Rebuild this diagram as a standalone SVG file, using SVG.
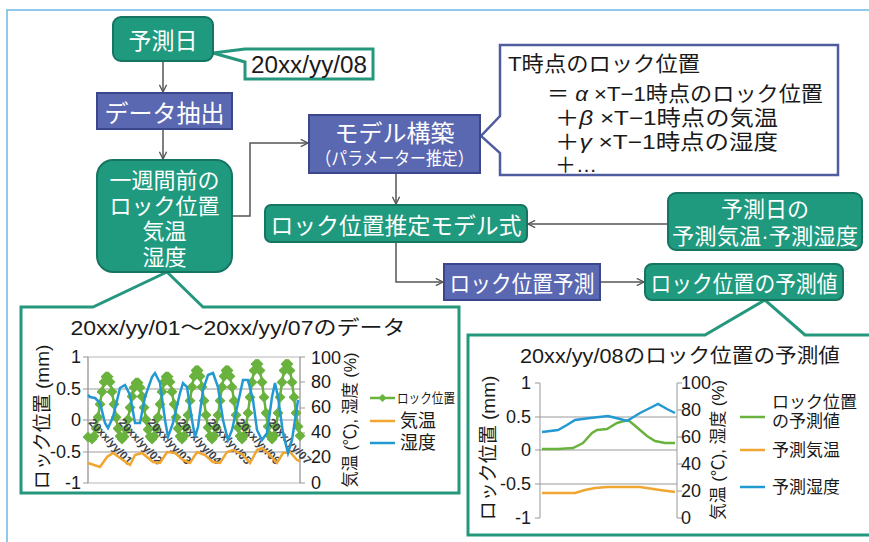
<svg xmlns="http://www.w3.org/2000/svg" width="869" height="542" viewBox="0 0 869 542">
<defs>
<style>
.teal{fill:#1f9a7e;stroke:#157560;stroke-width:2}
.blue{fill:#5a68b2;stroke:#3b478a;stroke-width:2}
.wt{fill:#fff;font-family:"Noto Sans CJK JP","Liberation Sans",sans-serif;text-anchor:middle;dominant-baseline:central}
.wl{fill:#fff;font-family:"Liberation Sans","Noto Sans CJK JP",sans-serif;text-anchor:middle;dominant-baseline:central}
.con{fill:none;stroke:#555;stroke-width:1.5}
.call{fill:#fff;stroke:#24977d;stroke-width:3}
.tx{font-family:"Liberation Sans","Noto Sans CJK JP",sans-serif;fill:#1a1a1a}
.mid{text-anchor:middle;dominant-baseline:central}
.end{text-anchor:end;dominant-baseline:central}
.st{text-anchor:start;dominant-baseline:central}
.ax{stroke:#999;stroke-width:1;fill:none}
.gr{fill:none;stroke:#6ab23e;stroke-width:2.5}
.or{fill:none;stroke:#f0a630;stroke-width:2.5}
.bl{fill:none;stroke:#2399d3;stroke-width:2.5}
.dl{font-family:"Liberation Sans",sans-serif;font-size:11.5px;font-weight:bold;fill:#3a3f4a}
</style>
<marker id="arr" viewBox="0 0 10 10" refX="9" refY="5" markerWidth="9" markerHeight="9" markerUnits="userSpaceOnUse" orient="auto"><path d="M1,1 L9,5 L1,9" fill="none" stroke="#555" stroke-width="1.5"/></marker>
<marker id="dia" viewBox="0 0 8 8" refX="4" refY="4" markerWidth="11" markerHeight="11" markerUnits="userSpaceOnUse" orient="0"><path d="M4,0 L8,4 L4,8 L0,4 Z" fill="#6ab23e"/></marker>
</defs>
<rect x="0" y="0" width="869" height="542" fill="#fff"/>
<rect x="7" y="10" width="880" height="545" fill="#fff" stroke="#6db8e6" stroke-width="1.5"/>

<!-- callouts -->
<g id="callout-date">
<path class="call" d="M213,53 L245,49 L373,49 L373,79 L245,79 L245,62 Z"/>
<text class="tx mid" x="309" y="65" font-size="23" textLength="116" lengthAdjust="spacingAndGlyphs">20xx/yy/08</text>
</g>
<g id="callout-formula">
<path d="M500,45 L838,45 L838,175 L500,175 L500,153 L481,136 L500,116 Z" fill="#fff" stroke="#4f5da0" stroke-width="2.5"/>
<text class="tx st" x="508" y="63" font-size="21" textLength="192" lengthAdjust="spacingAndGlyphs">T時点のロック位置</text>
<text class="tx st" x="547" y="93" font-size="21" textLength="276" lengthAdjust="spacingAndGlyphs">＝ <tspan font-style="italic">α</tspan> ×T−1時点のロック位置</text>
<text class="tx st" x="555" y="117" font-size="21" textLength="223" lengthAdjust="spacingAndGlyphs">＋<tspan font-style="italic">β</tspan> ×T−1時点の気温</text>
<text class="tx st" x="555" y="141" font-size="21" textLength="223" lengthAdjust="spacingAndGlyphs">＋<tspan font-style="italic">γ</tspan> ×T−1時点の湿度</text>
<text class="tx st" x="555" y="164" font-size="21">＋…</text>
</g>

<!-- left chart -->
<g id="chart-left">
<path class="call" d="M21,307 L93,307 L167,272 L203,307 L459,307 L459,493 L21,493 Z"/>
<text class="tx mid" x="238" y="328" font-size="20" textLength="335" lengthAdjust="spacingAndGlyphs">20xx/yy/01～20xx/yy/07のデータ</text>
<rect x="88" y="357" width="212" height="126" fill="#fff" stroke="#b5b5b5" stroke-width="1"/>
<path class="ax" d="M88,389 H300 M88,420 H300 M88,452 H300"/>
<path class="ax" d="M88,357 V483 M300,357 V483 M83,357 H88 M83,389 H88 M83,420 H88 M83,452 H88 M83,483 H88 M300,357 H305 M300,382 H305 M300,408 H305 M300,433 H305 M300,458 H305 M300,483 H305"/>
<g class="tx" font-size="18">
<text class="end" x="81" y="357">1</text>
<text class="end" x="81" y="389">0.5</text>
<text class="end" x="81" y="420">0</text>
<text class="end" x="81" y="452">-0.5</text>
<text class="end" x="81" y="483">-1</text>
<text class="st" x="311" y="358">100</text>
<text class="st" x="311" y="382">80</text>
<text class="st" x="311" y="407">60</text>
<text class="st" x="311" y="432">40</text>
<text class="st" x="311" y="457">20</text>
<text class="st" x="311" y="483">0</text>
</g>
<text class="tx mid" transform="translate(42,417) rotate(-90)" font-size="19">ロック位置 (mm)</text>
<text class="tx mid" transform="translate(350,420) rotate(-90)" font-size="17" textLength="135" lengthAdjust="spacingAndGlyphs">気温 (℃), 湿度 (%)</text>
<polyline class="gr" stroke-width="5" marker-start="url(#dia)" marker-mid="url(#dia)" marker-end="url(#dia)" points="88,437 92,439 94,436.3 96,428.6 98,417.3 100,404.2 102,391.8 104,382 106,376.7 108,376.7 110,382 112,391.8 114,404.2 116,417.3 118,428.6 120,436.3 122,439 124,436.6 126,429.6 128,419.4 130,407.6 132,396.4 134,387.6 136,382.8 138,382.8 140,387.6 142,396.4 144,407.6 146,419.4 148,429.6 150,436.6 152,439 154,436.3 156,428.6 158,417.3 160,404.2 162,391.8 164,382 166,376.7 168,376.7 170,382 172,391.8 174,404.2 176,417.3 178,428.6 180,436.3 182,439 184,436 186,427.5 188,415.1 190,400.7 192,387 194,376.2 196,370.4 198,370.4 200,376.2 202,387 204,400.7 206,415.1 208,427.5 210,436 212,439 214,436 216,427.5 218,415.1 220,400.7 222,387 224,376.2 226,370.4 228,370.4 230,376.2 232,387 234,400.7 236,415.1 238,427.5 240,436 242,439 244,435.7 246,426.5 248,412.9 250,397.2 252,382.2 254,370.5 256,364.1 258,364.1 260,370.5 262,382.2 264,397.2 266,412.9 268,426.5 270,435.7 272,439 274,435.7 276,426.5 278,412.9 280,397.2 282,382.2 284,370.5 286,364.1 288,364.1 290,370.5 292,382.2 294,397.2 296,412.9 298,426.5 300,435.7"/>
<g class="dl">
<text transform="translate(88,423) rotate(47)">20xx/yy/01</text>
<text transform="translate(118,423) rotate(47)">20xx/yy/02</text>
<text transform="translate(147,423) rotate(47)">20xx/yy/03</text>
<text transform="translate(177,423) rotate(47)">20xx/yy/04</text>
<text transform="translate(207,423) rotate(47)">20xx/yy/05</text>
<text transform="translate(236,423) rotate(47)">20xx/yy/06</text>
<text transform="translate(267,423) rotate(47)">20xx/yy/07</text>
</g>
<polyline class="or" points="88,463 100,467 107,457 113,453 123,460 130,465 135,455 142,453 153,462 160,463 167,452 175,453 183,460 190,463 197,452 205,455 213,462 220,463 227,452 233,450 243,455 250,463 257,450 262,448 270,455 277,463 283,453 290,452 297,460 300,461"/>
<polyline class="bl" points="88,395 90,397 95,398 100,403 105,423 108,428 113,417 120,388 125,385 130,395 135,423 140,423 145,397 152,377 155,373 160,383 165,420 168,437 173,423 180,393 183,383 187,387 192,420 195,437 198,427 203,390 208,375 213,373 218,387 223,420 228,440 232,430 238,403 243,380 248,380 253,400 257,430 262,440 267,433 272,397 275,383 278,397 283,433 288,453 292,440 295,420 298,400"/>
<line class="gr" x1="370" y1="398" x2="395" y2="398"/>
<path d="M382.5,394 L386.5,398 L382.5,402 L378.5,398 Z" fill="#6ab23e"/>
<text class="tx st" x="397" y="398" font-size="14" textLength="58" lengthAdjust="spacingAndGlyphs">ロック位置</text>
<line class="or" x1="370" y1="421" x2="395" y2="421"/>
<text class="tx st" x="400" y="421" font-size="18">気温</text>
<line class="bl" x1="370" y1="443" x2="395" y2="443"/>
<text class="tx st" x="400" y="443" font-size="18">湿度</text>
</g>

<!-- right chart -->
<g id="chart-right">
<path class="call" d="M468,335 L705,335 L765,300 L805,335 L880,335 L880,535 L468,535 Z"/>
<text class="tx mid" x="680" y="356" font-size="20" textLength="320" lengthAdjust="spacingAndGlyphs">20xx/yy/08のロック位置の予測値</text>
<path class="ax" d="M540,417 H677 M540,450 H677 M540,484 H677"/>
<path class="ax" d="M540,383 V518 M677,383 V518 M535,383 H540 M535,417 H540 M535,450 H540 M535,484 H540 M535,518 H540 M677,383 H682 M677,410 H682 M677,437 H682 M677,464 H682 M677,491 H682 M677,518 H682"/>
<g class="tx" font-size="18">
<text class="end" x="531" y="383">1</text>
<text class="end" x="531" y="417">0.5</text>
<text class="end" x="531" y="450">0</text>
<text class="end" x="531" y="484">-0.5</text>
<text class="end" x="531" y="518">-1</text>
<text class="st" x="681" y="383">100</text>
<text class="st" x="681" y="410">80</text>
<text class="st" x="681" y="437">60</text>
<text class="st" x="681" y="464">40</text>
<text class="st" x="681" y="491">20</text>
<text class="st" x="681" y="518">0</text>
</g>
<text class="tx mid" transform="translate(488,448) rotate(-90)" font-size="19">ロック位置 (mm)</text>
<text class="tx mid" transform="translate(718,450) rotate(-90)" font-size="17" textLength="140" lengthAdjust="spacingAndGlyphs">気温 (℃), 湿度 (%)</text>
<polyline class="gr" points="542,449 558,449 573,448 583,443 592,433 597,430 607,429 617,423 628,420 633,424 640,430 647,436 655,441 665,443 675,443"/>
<polyline class="bl" points="542,432 558,430 567,425 575,420 590,418 608,416 620,419 627,421 640,413 650,408 658,404 667,409 675,413"/>
<polyline class="or" points="542,493 575,493 585,490 595,488 607,487 640,487 660,490 675,492"/>
<line class="gr" x1="740" y1="417" x2="765" y2="417"/>
<text class="tx st" x="772" y="402" font-size="17">ロック位置</text>
<text class="tx st" x="772" y="421" font-size="17">の予測値</text>
<line class="or" x1="740" y1="450" x2="765" y2="450"/>
<text class="tx st" x="772" y="450" font-size="17">予測気温</text>
<line class="bl" x1="740" y1="487" x2="765" y2="487"/>
<text class="tx st" x="772" y="487" font-size="17">予測湿度</text>
</g>

<!-- connectors -->
<g id="connectors">
<path class="con" d="M163,61 L163,92" marker-end="url(#arr)"/>
<path class="con" d="M163,129 L163,159" marker-end="url(#arr)"/>
<path class="con" d="M232,216 L250,216 L250,143 L308,143" marker-end="url(#arr)"/>
<path class="con" d="M396,173 L396,204" marker-end="url(#arr)"/>
<path class="con" d="M668,224 L528,224" marker-end="url(#arr)"/>
<path class="con" d="M396,242 L396,282 L443,282" marker-end="url(#arr)"/>
<path class="con" d="M600,282 L644,282" marker-end="url(#arr)"/>
</g>

<!-- nodes -->
<g id="n-yosokubi">
<rect class="teal" x="113" y="17" width="100" height="44" rx="8"/>
<text class="wt" x="163" y="39" font-size="23">予測日</text>
</g>
<g id="n-extract">
<rect class="blue" x="97" y="93" width="135" height="36"/>
<text class="wt" x="164.5" y="111" font-size="24">データ抽出</text>
</g>
<g id="n-week">
<rect class="teal" x="97" y="160" width="135" height="112" rx="16"/>
<text class="wl" x="164.5" y="180.5" font-size="22">一週間前の</text>
<text class="wl" x="164.5" y="206" font-size="22">ロック位置</text>
<text class="wl" x="164.5" y="231.5" font-size="22">気温</text>
<text class="wl" x="164.5" y="257" font-size="22">湿度</text>
</g>
<g id="n-model">
<rect class="blue" x="309" y="115" width="171" height="58"/>
<text class="wl" x="394.5" y="133.5" font-size="24">モデル構築</text>
<text class="wl" x="394.5" y="158.5" font-size="18" textLength="158" lengthAdjust="spacingAndGlyphs">（パラメーター推定）</text>
</g>
<g id="n-formula">
<rect class="teal" x="265" y="205" width="262" height="37" rx="6"/>
<text class="wt" x="396" y="223.5" font-size="23" textLength="251" lengthAdjust="spacingAndGlyphs">ロック位置推定モデル式</text>
</g>
<g id="n-forecast">
<rect class="teal" x="668" y="193" width="194" height="57" rx="8"/>
<text class="wl" x="765" y="209" font-size="22">予測日の</text>
<text class="wl" x="765" y="236" font-size="22" textLength="186" lengthAdjust="spacingAndGlyphs">予測気温·予測湿度</text>
</g>
<g id="n-predict">
<rect class="blue" x="444" y="264" width="156" height="36"/>
<text class="wt" x="522" y="282" font-size="23" textLength="145" lengthAdjust="spacingAndGlyphs">ロック位置予測</text>
</g>
<g id="n-value">
<rect class="teal" x="645" y="264" width="198" height="36" rx="7"/>
<text class="wt" x="744" y="282" font-size="23" textLength="187" lengthAdjust="spacingAndGlyphs">ロック位置の予測値</text>
</g>
</svg>
